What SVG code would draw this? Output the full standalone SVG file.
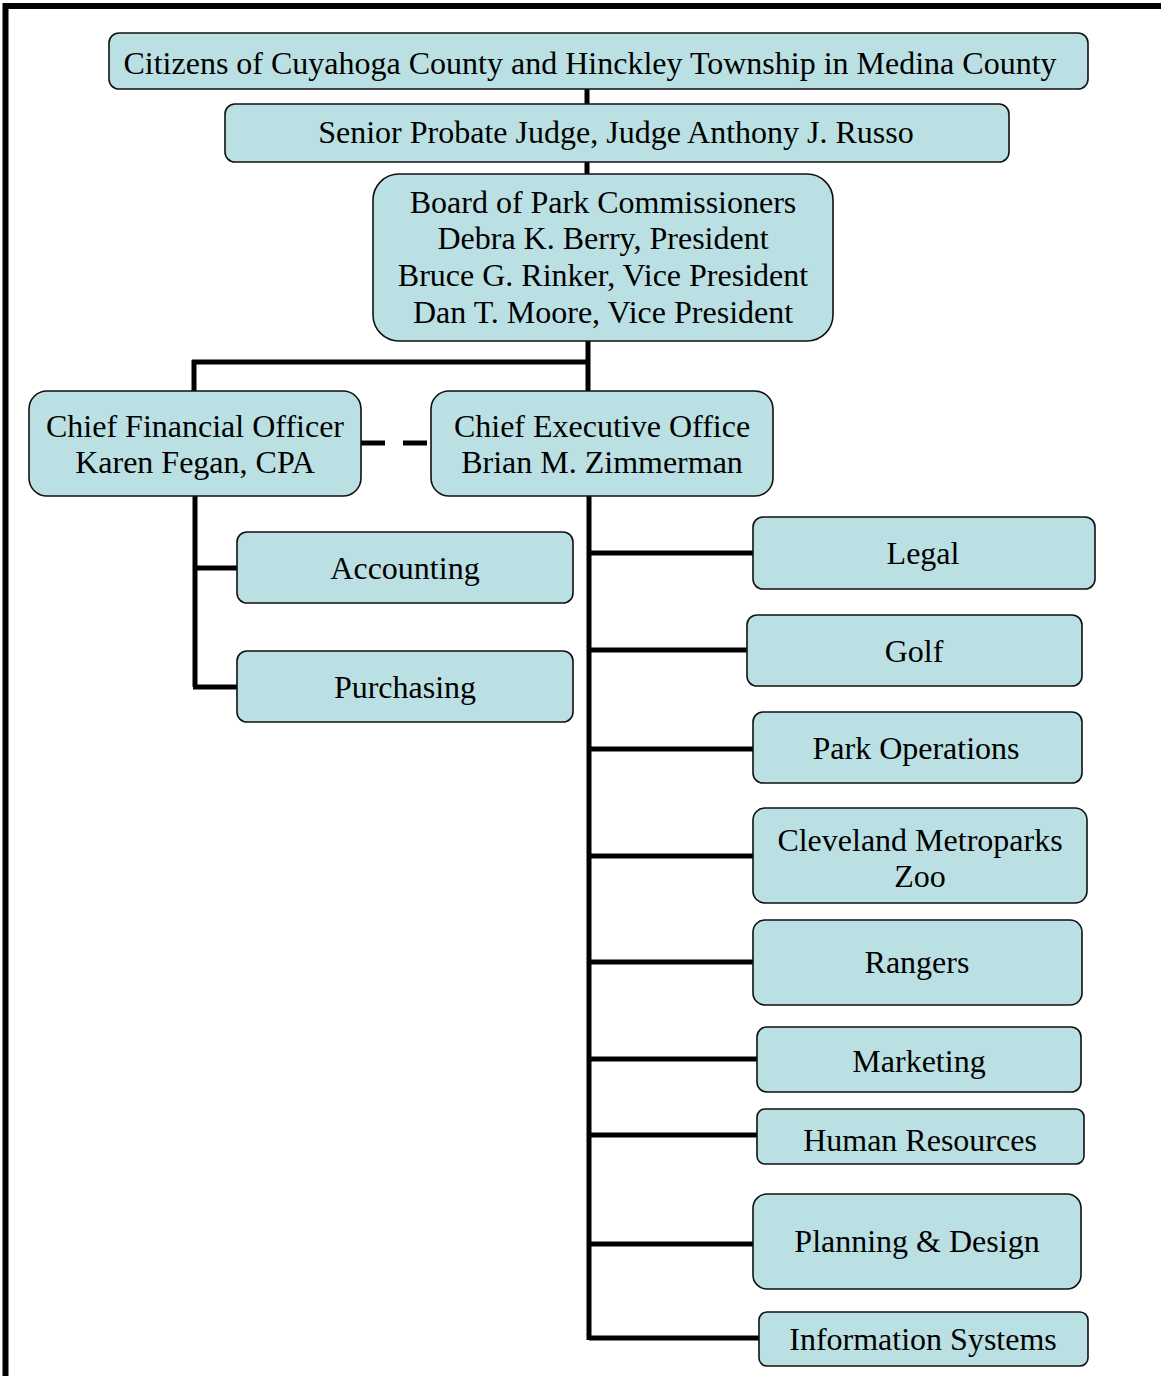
<svg xmlns="http://www.w3.org/2000/svg" width="1161" height="1376" viewBox="0 0 1161 1376">
<style>
.box{fill:#BBE0E3;stroke:#111;stroke-width:1.6}
.t{font-family:"Liberation Serif","Times New Roman",serif;font-size:32px;fill:#000;text-anchor:middle}
.c{stroke:#000;stroke-width:5;fill:none}
</style>
<rect x="0" y="0" width="1161" height="1376" fill="#fff"/>
<g id="frame"><path d="M5.5,1376 V6 H1161" stroke="#000" stroke-width="6" fill="none"/></g>
<g id="connectors">
<path class="c" d="M587,89 V104 M587,162 V174 M588,341 V393 M192,362 H590 M194,360 V393"/>
<path class="c" d="M361,443 H431" stroke-dasharray="24,18"/>
<path class="c" d="M195,496 V687 M193,568 H237 M193,687 H237"/>
<path class="c" d="M589,496 V1340 M589,553 H753 M589,650 H747 M589,749 H753 M589,856 H753 M589,962 H753 M589,1059 H757 M589,1135 H757 M589,1244 H753 M589,1338 H759"/>
</g>
<g id="citizens"><rect class="box" x="109" y="33" width="979" height="56" rx="10"/><text class="t" x="590" y="74">Citizens of Cuyahoga County and Hinckley Township in Medina County</text></g>
<g id="judge"><rect class="box" x="225" y="104" width="784" height="58" rx="10"/><text class="t" x="616" y="143">Senior Probate Judge, Judge Anthony J. Russo</text></g>
<g id="board"><rect class="box" x="373" y="174" width="460" height="167" rx="26"/><text class="t" x="603" y="213">Board of Park Commissioners</text><text class="t" x="603" y="249">Debra K. Berry, President</text><text class="t" x="603" y="286">Bruce G. Rinker, Vice President</text><text class="t" x="603" y="323">Dan T. Moore, Vice President</text></g>
<g id="cfo"><rect class="box" x="29" y="391" width="332" height="105" rx="18"/><text class="t" x="195" y="437">Chief Financial Officer</text><text class="t" x="195" y="473">Karen Fegan, CPA</text></g>
<g id="ceo"><rect class="box" x="431" y="391" width="342" height="105" rx="18"/><text class="t" x="602" y="437">Chief Executive Office</text><text class="t" x="602" y="473">Brian M. Zimmerman</text></g>
<g id="accounting"><rect class="box" x="237" y="532" width="336" height="71" rx="10"/><text class="t" x="405" y="579">Accounting</text></g>
<g id="purchasing"><rect class="box" x="237" y="651" width="336" height="71" rx="10"/><text class="t" x="405" y="698">Purchasing</text></g>
<g id="legal"><rect class="box" x="753" y="517" width="342" height="72" rx="10"/><text class="t" x="923" y="564">Legal</text></g>
<g id="golf"><rect class="box" x="747" y="615" width="335" height="71" rx="10"/><text class="t" x="914" y="662">Golf</text></g>
<g id="parkops"><rect class="box" x="753" y="712" width="329" height="71" rx="10"/><text class="t" x="916" y="759">Park Operations</text></g>
<g id="zoo"><rect class="box" x="753" y="808" width="334" height="95" rx="12"/><text class="t" x="920" y="851">Cleveland Metroparks</text><text class="t" x="920" y="887">Zoo</text></g>
<g id="rangers"><rect class="box" x="753" y="920" width="329" height="85" rx="12"/><text class="t" x="917" y="973">Rangers</text></g>
<g id="marketing"><rect class="box" x="757" y="1027" width="324" height="65" rx="10"/><text class="t" x="919" y="1072">Marketing</text></g>
<g id="hr"><rect class="box" x="757" y="1109" width="327" height="55" rx="8"/><text class="t" x="920" y="1151">Human Resources</text></g>
<g id="planning"><rect class="box" x="753" y="1194" width="328" height="95" rx="14"/><text class="t" x="917" y="1252">Planning &amp; Design</text></g>
<g id="infosys"><rect class="box" x="759" y="1312" width="329" height="54" rx="8"/><text class="t" x="923" y="1350">Information Systems</text></g>
</svg>
